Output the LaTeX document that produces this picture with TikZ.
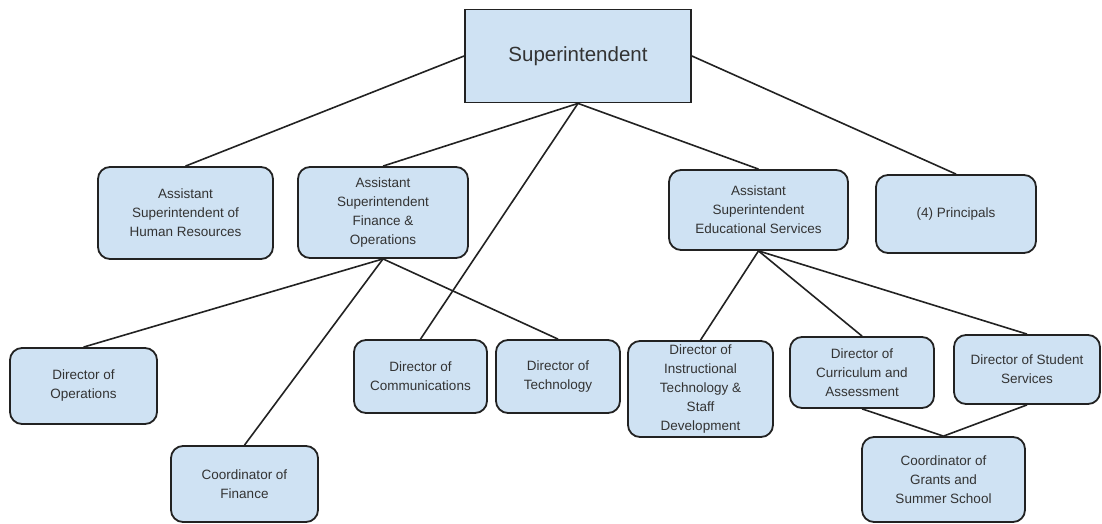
\documentclass[tikz,border=0pt]{standalone}
\usepackage{fontspec}
\setmainfont{Liberation Sans}
\definecolor{boxblue}{HTML}{CFE2F3}
\definecolor{boxline}{HTML}{222222}
\definecolor{boxtext}{HTML}{333333}
\tikzset{
  orgbox/.style={rectangle, rounded corners=12pt, draw=boxline, fill=boxblue, line width=1.8pt,
    align=center, text=boxtext, font=\fontsize{13.5}{19}\selectfont, inner sep=2pt},
  link/.style={draw=boxline, line width=1.6pt}
}
\begin{document}
\begin{tikzpicture}[x=1pt,y=1pt]
\useasboundingbox[fill=white] (0,0) rectangle (1102,-524);

%Superintendent
\node[orgbox, rounded corners=0pt, minimum width=226pt, minimum height=93pt, font=\fontsize{20.5}{24}\selectfont] (sup) at (578,-56) {Superintendent};

%Assistant superintendents
\node[orgbox, minimum width=175pt, minimum height=92pt] (hr) at (185.5,-213) {Assistant\\Superintendent of\\Human Resources};
\node[orgbox, minimum width=170pt, minimum height=91pt] (fin) at (383,-212.5) {Assistant\\Superintendent\\Finance \&\\Operations};
\node[orgbox, minimum width=179pt, minimum height=80pt] (edu) at (758.5,-210) {Assistant\\Superintendent\\Educational Services};

%Principals
\node[orgbox, minimum width=160pt, minimum height=78pt] (prin) at (956,-214) {(4) Principals};

%Finance side
\node[orgbox, minimum width=147pt, minimum height=76pt] (ops) at (83.5,-386) {Director of\\Operations};
\node[orgbox, minimum width=147pt, minimum height=76pt] (cfin) at (244.5,-484) {Coordinator of\\Finance};
\node[orgbox, minimum width=133pt, minimum height=73pt] (comm) at (420.5,-376.5) {Director of\\Communications};
\node[orgbox, minimum width=124pt, minimum height=73pt] (tech) at (558,-376.5) {Director of\\Technology};

%Educational side
\node[orgbox, minimum width=145pt, minimum height=96pt] (instr) at (700.5,-389) {Director of\\Instructional\\Technology \&\\Staff\\Development};
\node[orgbox, minimum width=144pt, minimum height=71pt] (curr) at (862,-372.5) {Director of\\Curriculum and\\Assessment};
\node[orgbox, minimum width=146pt, minimum height=69pt] (stud) at (1027,-369.5) {Director of Student\\Services};
\node[orgbox, minimum width=163pt, minimum height=85pt] (grant) at (943.5,-479.5) {Coordinator of\\Grants and\\Summer School};

%Lines
\draw[link] (sup.west) -- (hr.north);
\draw[link] (sup.south) -- (fin.north);
\draw[link] (sup.south) -- (comm.north);
\draw[link] (sup.south) -- (edu.north);
\draw[link] (sup.east) -- (prin.north);
\draw[link] (fin.south) -- (ops.north);
\draw[link] (fin.south) -- (cfin.north);
\draw[link] (fin.south) -- (tech.north);
\draw[link] (edu.south) -- (instr.north);
\draw[link] (edu.south) -- (curr.north);
\draw[link] (edu.south) -- (stud.north);
\draw[link] (curr.south) -- (grant.north);
\draw[link] (stud.south) -- (grant.north);

\end{tikzpicture}
\end{document}
